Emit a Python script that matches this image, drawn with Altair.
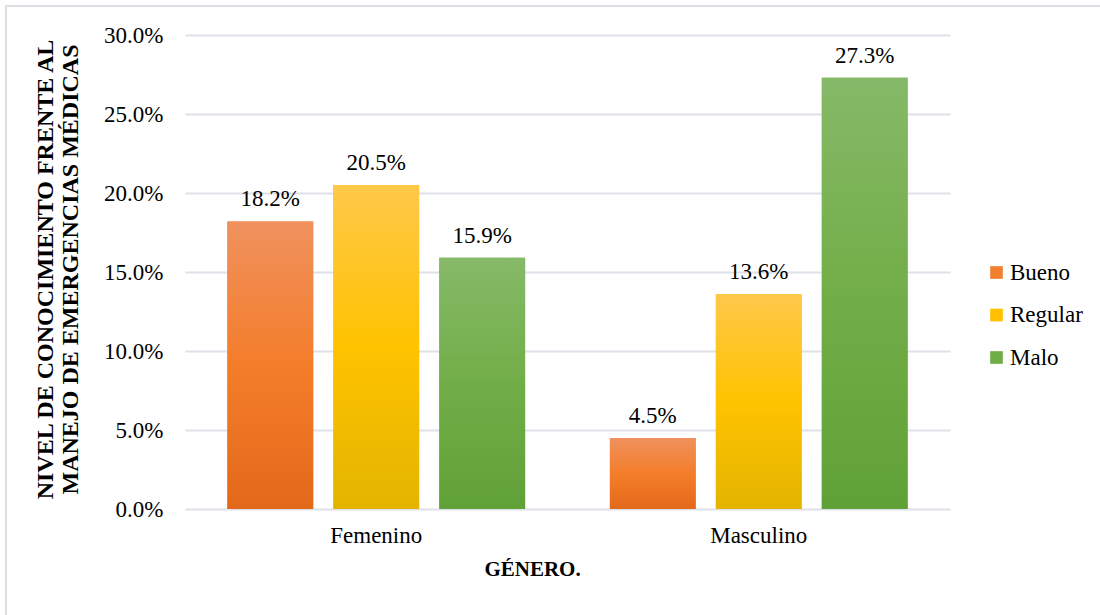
import altair as alt
import pandas as pd

generos = ["Femenino", "Femenino", "Femenino", "Masculino", "Masculino", "Masculino"]
niveles = ["Bueno", "Regular", "Malo", "Bueno", "Regular", "Malo"]
valores = [0.182, 0.205, 0.159, 0.045, 0.136, 0.273]

cat_order = ["Bueno", "Regular", "Malo"]
solid_colors = ["#F07F2E", "#FFC000", "#70AD47"]
grad_stops = {
    "Bueno": ["#F0915E", "#F47D2A", "#E3691A"],
    "Regular": ["#FFC84A", "#FFC300", "#E3B400"],
    "Malo": ["#86B968", "#72AE48", "#60A137"],
}

df = pd.DataFrame({"genero": generos, "nivel": niveles, "valor": valores})

FONT = "'Liberation Serif', 'Times New Roman', Times, serif"
FS = 23

x_enc = alt.X("genero:N", sort=["Femenino", "Masculino"],
              scale=alt.Scale(paddingInner=0, paddingOuter=0),
              axis=alt.Axis(title="GÉNERO.", labelAngle=0, ticks=False, domain=False,
                            labelPadding=15, labelFontSize=FS, labelFont=FONT,
                            labelColor="#000000", titleFont=FONT, titleFontSize=21,
                            titleFontWeight="bold", titleColor="#000000",
                            titlePadding=11, titleX=347, titleAlign="center"))
xoff_enc = alt.XOffset("nivel:N", sort=cat_order,
                       scale=alt.Scale(domain=cat_order, paddingInner=0.19, paddingOuter=0.4))
y_enc = alt.Y("valor:Q",
              scale=alt.Scale(domain=[0, 0.3], nice=False),
              axis=alt.Axis(title=["NIVEL DE CONOCIMIENTO FRENTE AL", "MANEJO DE EMERGENCIAS MÉDICAS"],
                            format=".1%", values=[0, 0.05, 0.1, 0.15, 0.2, 0.25, 0.3],
                            ticks=False, domain=False, labelPadding=22,
                            labelFontSize=FS, labelFont=FONT, labelColor="#000000",
                            gridColor="#DEE2E8", gridWidth=2,
                            titleFont=FONT, titleFontSize=24, titleFontWeight="bold",
                            titleColor="#000000", titleAngle=-90, titleX=-140, titleY=234,
                            titleAlign="center", titleBaseline="middle", titleLineHeight=25))

base = alt.Chart(df)

legend_layer = base.mark_bar().encode(
    x=x_enc, xOffset=xoff_enc, y=y_enc,
    color=alt.Color("nivel:N", sort=cat_order,
                    scale=alt.Scale(domain=cat_order, range=solid_colors),
                    legend=alt.Legend(title=None, orient="none", legendX=800, legendY=226,
                                      symbolType="square", symbolSize=160,
                                      symbolStrokeWidth=0, labelFont=FONT,
                                      labelFontSize=FS, labelColor="#000000",
                                      labelOffset=2, rowPadding=18.5)),
)

layers = [legend_layer]
for cat in cat_order:
    c1, c2, c3 = grad_stops[cat]
    grad = alt.Gradient(
        gradient="linear",
        stops=[alt.GradientStop(color=c1, offset=0),
               alt.GradientStop(color=c2, offset=0.5),
               alt.GradientStop(color=c3, offset=1)],
        x1=0, x2=0, y1=0, y2=1,
    )
    layers.append(
        base.transform_filter(alt.datum.nivel == cat)
        .mark_bar(fill=grad)
        .encode(x=x_enc, xOffset=xoff_enc, y=y_enc)
    )

labels = base.mark_text(font=FONT, fontSize=FS, color="#000000", baseline="alphabetic",
                        dy=-15).encode(
    x=x_enc, xOffset=xoff_enc, y=y_enc,
    text=alt.Text("valor:Q", format=".1%"),
)
layers.append(labels)

border = alt.Chart(alt.Data(values=[{"a": 1}])).mark_rect(
    filled=False, stroke="#DCDFE4", strokeWidth=2
).encode(x=alt.value(-179), x2=alt.value(960), y=alt.value(-29), y2=alt.value(640))
layers.append(border)

chart = alt.layer(*layers).properties(
    width=765, height=474,
    autosize=alt.AutoSizeParams(type="none"),
    padding={"left": 185, "top": 35, "right": 150, "bottom": 106},
).configure(background="#FFFFFF").configure_view(stroke=None)

chart.save("out.html", embed_options={"renderer": "svg", "actions": False})
